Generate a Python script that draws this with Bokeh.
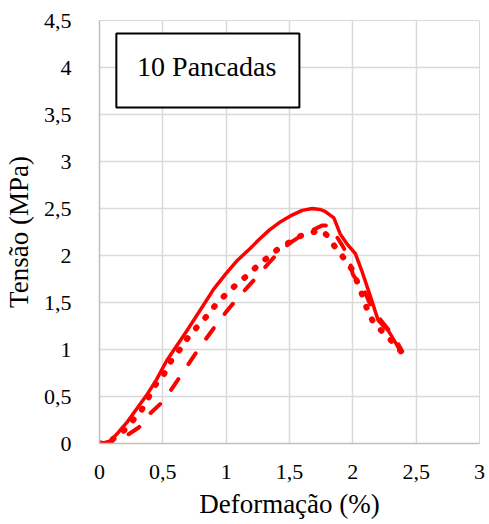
from bokeh.plotting import figure
from bokeh.models import Range1d, FixedTicker, BoxAnnotation, Label, CustomJSTickFormatter
from bokeh.embed import file_html
from bokeh.resources import INLINE

# ---- data ----
x_ticks = [0, 0.5, 1, 1.5, 2, 2.5, 3]
y_ticks = [0, 0.5, 1, 1.5, 2, 2.5, 3, 3.5, 4, 4.5]
decimal_sep = ","

solid_x = [0, 0.04, 0.09, 0.15, 0.22, 0.30, 0.38, 0.45, 0.53, 0.61, 0.69, 0.82, 0.90,
           1.00, 1.09, 1.185, 1.26, 1.34, 1.43, 1.52, 1.60, 1.68, 1.74, 1.78, 1.81,
           1.85, 1.88, 1.90, 1.95, 2.02, 2.07, 2.14, 2.20, 2.24, 2.28, 2.33, 2.38]
solid_y = [0, 0.01, 0.03, 0.12, 0.23, 0.38, 0.53, 0.68, 0.88, 1.04, 1.20, 1.47, 1.64,
           1.81, 1.95, 2.07, 2.17, 2.27, 2.36, 2.43, 2.48, 2.50, 2.49, 2.47, 2.44,
           2.40, 2.30, 2.23, 2.13, 2.02, 1.84, 1.56, 1.31, 1.25, 1.20, 1.09, 0.97]

dotted_x = [0, 0.05, 0.09, 0.195, 0.33, 0.44, 0.51, 0.57, 0.64, 0.70, 0.77, 0.85, 0.92,
            1.00, 1.08, 1.16, 1.24, 1.31, 1.41, 1.50, 1.59, 1.69, 1.75, 1.80, 1.86,
            1.93, 2.00, 2.04, 2.08, 2.12, 2.17, 2.25, 2.32, 2.38]
dotted_y = [0, 0.01, 0.03, 0.14, 0.35, 0.62, 0.74, 0.89, 1.01, 1.13, 1.24, 1.36, 1.48,
            1.59, 1.69, 1.78, 1.88, 1.96, 2.07, 2.14, 2.21, 2.25, 2.27, 2.21, 2.09,
            1.97, 1.84, 1.70, 1.56, 1.40, 1.27, 1.17, 1.07, 0.98]

dashed_x = [0, 0.06, 0.12, 0.22, 0.31, 0.40, 0.495, 0.56, 0.64, 0.70, 0.77, 0.85, 0.92,
            1.00, 1.08, 1.16, 1.24, 1.33, 1.41, 1.50, 1.59, 1.68, 1.76, 1.81, 1.85,
            1.92, 1.97, 2.00, 2.04, 2.10, 2.13, 2.18, 2.24, 2.30, 2.35, 2.39]
dashed_y = [0, 0.0, 0.03, 0.09, 0.17, 0.32, 0.44, 0.56, 0.72, 0.84, 0.98, 1.13, 1.26,
            1.40, 1.53, 1.65, 1.77, 1.91, 2.03, 2.13, 2.21, 2.27, 2.32, 2.32, 2.25,
            2.10, 1.97, 1.80, 1.72, 1.60, 1.50, 1.38, 1.28, 1.18, 1.08, 0.98]

FONT = "Liberation Serif, serif"
RED = "#ff0000"

p = figure(width=489, height=524, output_backend="svg", toolbar_location=None,
           x_range=Range1d(0, 3), y_range=Range1d(0, 4.5),
           min_border_left=95, min_border_right=10, min_border_top=20, min_border_bottom=81)
p.outline_line_color = "#d9d9d9"

fmt = CustomJSTickFormatter(args=dict(sep=decimal_sep),
                            code="return tick.toString().replace('.', sep);")
p.xaxis.ticker = FixedTicker(ticks=x_ticks)
p.yaxis.ticker = FixedTicker(ticks=y_ticks)
for ax in (p.xaxis[0], p.yaxis[0]):
    ax.formatter = fmt
    ax.major_tick_line_color = None
    ax.minor_tick_line_color = None
    ax.axis_line_color = "#bfbfbf"
    ax.axis_line_width = 1.5
    ax.major_label_text_font = FONT
    ax.major_label_text_font_size = "22px"
    ax.major_label_text_color = "black"
    ax.axis_label_text_font = FONT
    ax.axis_label_text_font_size = "27px"
    ax.axis_label_text_font_style = "normal"
    ax.axis_label_text_color = "black"

p.xaxis.axis_label = "Deformação (%)"
p.yaxis.axis_label = "Tensão (MPa)"
p.xaxis.major_label_standoff = 15
p.yaxis.major_label_standoff = 22
p.xaxis.axis_label_standoff = 7
p.yaxis.axis_label_standoff = 7

p.xgrid.grid_line_color = "#d9d9d9"
p.ygrid.grid_line_color = "#d9d9d9"
p.xgrid.grid_line_width = 1.5
p.ygrid.grid_line_width = 1.5

p.line(solid_x, solid_y, line_color=RED, line_width=3.5, line_join="round", line_cap="round")
p.line(dashed_x, dashed_y, line_color=RED, line_width=4, line_dash="13 18", line_join="round", line_cap="round")
p.line(dotted_x, dotted_y, line_color=RED, line_width=6, line_dash="1 13", line_join="round", line_cap="round")

box = BoxAnnotation(left=0.133, right=1.578, bottom=3.574, top=4.362,
                    fill_color="white", fill_alpha=1.0, line_color="black", line_alpha=1.0, line_width=2)
p.add_layout(box)
p.add_layout(Label(x=0.297, y=3.851, text="10 Pancadas", text_font=FONT, text_font_size="28px",
                   text_color="black"))

open("out.html", "w").write(file_html(p, INLINE))
